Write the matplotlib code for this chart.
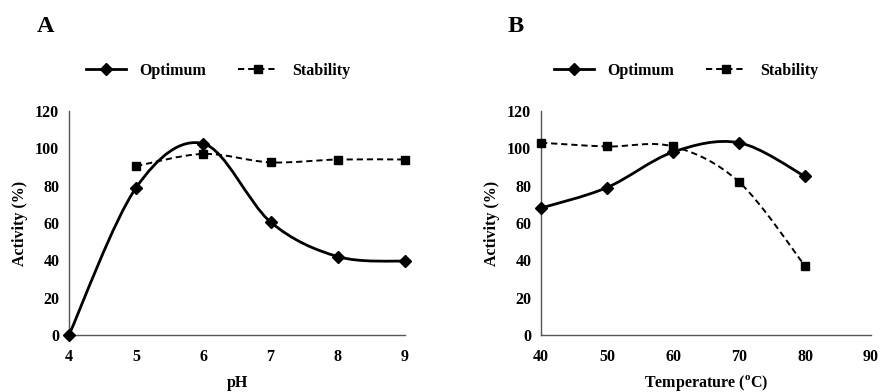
import matplotlib
matplotlib.use("Agg")
import matplotlib.pyplot as plt
from matplotlib.path import Path
from matplotlib.patches import PathPatch
from matplotlib.lines import Line2D

plt.rcParams['font.family'] = ['Liberation Serif', 'DejaVu Serif']
plt.rcParams['font.weight'] = 'bold'
plt.rcParams['mathtext.fontset'] = 'custom'
plt.rcParams['mathtext.rm'] = 'Liberation Serif:bold'
plt.rcParams['mathtext.bf'] = 'Liberation Serif:bold'

# Panel A (pH)
ph = [4, 5, 6, 7, 8, 9]
ph_optimum = [0, 79, 102.5, 60.5, 42, 39.5]
ph_stab_x = [5, 6, 7, 8, 9]
ph_stability = [90.5, 97, 92.5, 94, 94]
ph_ticks = [4, 5, 6, 7, 8, 9]

# Panel B (Temperature)
temp = [40, 50, 60, 70, 80]
temp_optimum = [68, 79, 98, 103, 85]
temp_stability = [103, 101, 101, 82, 37]
temp_ticks = [40, 50, 60, 70, 80, 90]

y_ticks = [0, 20, 40, 60, 80, 100, 120]

FS = 11.5
DASH = (0, (3.2, 2.0))


def smooth_path(xs, ys):
    """Excel-style smoothed line (Catmull-Rom as cubic Bezier segments)."""
    pts = list(zip(xs, ys))
    verts = [pts[0]]
    codes = [Path.MOVETO]
    n = len(pts)
    for i in range(n - 1):
        p0 = pts[i - 1] if i > 0 else pts[i]
        p1 = pts[i]
        p2 = pts[i + 1]
        p3 = pts[i + 2] if i + 2 < n else pts[i + 1]
        c1 = (p1[0] + (p2[0] - p0[0]) / 6, p1[1] + (p2[1] - p0[1]) / 6)
        c2 = (p2[0] - (p3[0] - p1[0]) / 6, p2[1] - (p3[1] - p1[1]) / 6)
        verts += [c1, c2, p2]
        codes += [Path.CURVE4] * 3
    return Path(verts, codes)


def draw_series(ax, xs, ys, style):
    if style == 'opt':
        patch = PathPatch(smooth_path(xs, ys), facecolor='none', edgecolor='black',
                          lw=2.0, capstyle='round', joinstyle='round', zorder=3)
        ax.add_patch(patch)
        ax.plot(xs, ys, ls='none', marker='D', ms=6.3, color='black', zorder=4, clip_on=False)
    else:
        patch = PathPatch(smooth_path(xs, ys), facecolor='none', edgecolor='black',
                          lw=1.4, linestyle=DASH, zorder=3)
        ax.add_patch(patch)
        ax.plot(xs, ys, ls='none', marker='s', ms=6.0, color='black', zorder=4, clip_on=False)


def style_axes(ax, xlim, xticks, xlabel):
    ax.set_xlim(*xlim)
    ax.set_ylim(0, 120)
    ax.set_xticks(xticks)
    ax.set_yticks(y_ticks)
    for s in ['top', 'right']:
        ax.spines[s].set_visible(False)
    for s in ['left', 'bottom']:
        ax.spines[s].set_color('#555555')
        ax.spines[s].set_linewidth(1.0)
    ax.tick_params(length=0, labelsize=FS, pad=7)
    ax.tick_params(axis='x', pad=10)
    for lab in ax.get_xticklabels() + ax.get_yticklabels():
        lab.set_fontweight('bold')
    ax.set_ylabel('Activity (%)', fontsize=FS, fontweight='bold', labelpad=5)
    ax.set_xlabel(xlabel, fontsize=FS, fontweight='bold', va='center')
    ax.xaxis.set_label_coords(0.5, (335 - 383) / 224)


fig = plt.figure(figsize=(8.82, 3.92), dpi=100)
axA = fig.add_axes([69 / 882, 1 - 335 / 392, 336 / 882, 224 / 392])
axB = fig.add_axes([541 / 882, 1 - 335 / 392, 330 / 882, 224 / 392])

draw_series(axA, ph, ph_optimum, 'opt')
draw_series(axA, ph_stab_x, ph_stability, 'stab')
style_axes(axA, (4, 9), ph_ticks, 'pH')

draw_series(axB, temp, temp_optimum, 'opt')
draw_series(axB, temp, temp_stability, 'stab')
style_axes(axB, (40, 90), temp_ticks, r'Temperature ($^{\mathrm{o}}$C)')

h_opt = Line2D([], [], color='black', lw=2.0, marker='D', ms=6.3)
h_stab = Line2D([], [], color='black', lw=1.4, ls=DASH, marker='s', ms=6.0)

for ax, x0 in [(axA, 86 / 882), (axB, 554 / 882)]:
    fig.legend([h_opt, h_stab], ['Optimum', 'Stability'], loc='center left',
               bbox_to_anchor=(x0, 1 - 71 / 392), ncol=2, frameon=False,
               handlelength=2.5, handletextpad=0.85, columnspacing=2.0,
               borderaxespad=0, borderpad=0,
               prop={'family': 'Liberation Serif', 'weight': 'bold', 'size': FS})

fig.text(37 / 882, 1 - 27 / 392, 'A', fontsize=17.5, fontweight='bold', va='center', ha='left')
fig.text(508 / 882, 1 - 27 / 392, 'B', fontsize=17.5, fontweight='bold', va='center', ha='left')

fig.savefig('out.png', dpi=100, facecolor='white')
